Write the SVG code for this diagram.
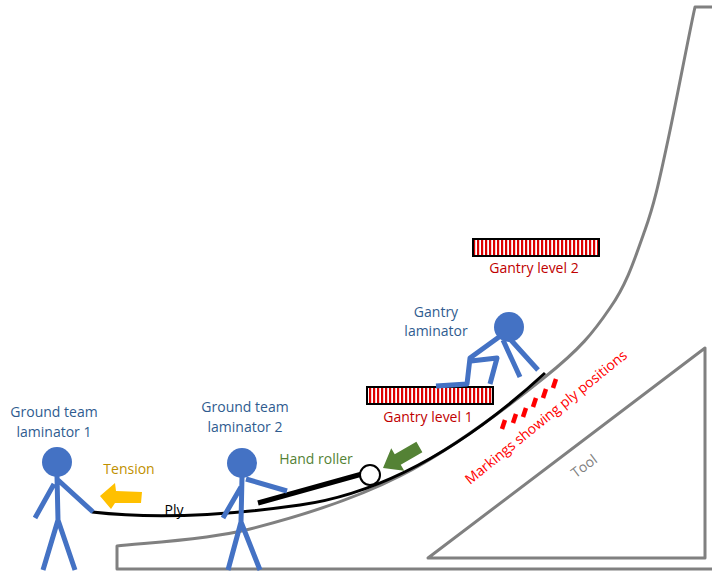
<svg xmlns="http://www.w3.org/2000/svg" width="712" height="573" viewBox="0 0 712 573">
  <style>
    text { font-family: "Open Sans", "Liberation Sans", Arial, sans-serif; font-size: 14px; }
    .lbl { fill: #2F5C8F; text-anchor: middle; }
    .gantry-lbl { fill: #C00000; text-anchor: middle; }
    .fig { fill: none; stroke: #4472C4; stroke-width: 5; stroke-linejoin: round; }
    .head { fill: #4472C4; }
    .tool { fill: none; stroke: #808080; stroke-width: 3; stroke-linejoin: round; }
    .mark { stroke: #FF0000; stroke-width: 4.5; }
    .bar { fill: url(#stripes); stroke: #000; stroke-width: 2; }
  </style>
  <defs>
    <pattern id="stripes" patternUnits="userSpaceOnUse" x="0" y="0" width="4" height="20">
      <rect x="0" y="0" width="4" height="20" fill="#FFFFFF"/>
      <rect x="1" y="0" width="2.2" height="20" fill="#DD0000"/>
    </pattern>
  </defs>

  <!-- Tool: mould surface and base -->
  <g id="tool">
    <path class="tool" d="M712,569 L117,569 L117,546 C139,543 203,541 250,529 C297,517 351,501 400,476 C449,451 510,405 545,377 C580,349 593,333 610,308 C627,284 635,258 645,230 C655,202 660,177 668,140 C676,103 690,29 695,7 L712,7"/>
    <path class="tool" d="M428,558 L705,348 L705,558 Z"/>
    <text transform="translate(587,470) rotate(-37)" text-anchor="middle" fill="#7F7F7F">Tool</text>
  </g>

  <!-- Gantry platforms -->
  <g id="gantry-level-2">
    <rect class="bar" x="473" y="239" width="126" height="17"/>
    <text class="gantry-lbl" x="534" y="273">Gantry level 2</text>
  </g>
  <g id="gantry-level-1">
    <rect class="bar" x="367" y="387" width="126" height="17"/>
    <text class="gantry-lbl" x="428" y="422">Gantry level 1</text>
  </g>

  <!-- Ply laid on the tool -->
  <g id="ply">
    <path d="M92,512 Q180,522 300,505 T545,373" fill="none" stroke="#000" stroke-width="3"/>
    <text x="174" y="515" text-anchor="middle" fill="#000">Ply</text>
  </g>

  <!-- Ply position markings -->
  <g id="markings">
    <line class="mark" x1="502" y1="429" x2="505" y2="420"/>
    <line class="mark" x1="513" y1="423" x2="516" y2="414"/>
    <line class="mark" x1="523" y1="417" x2="526" y2="408"/>
    <line class="mark" x1="533" y1="407" x2="536" y2="398"/>
    <line class="mark" x1="543" y1="398" x2="546" y2="389"/>
    <line class="mark" x1="553" y1="388" x2="556" y2="379"/>
    <text transform="translate(549,421) rotate(-39)" text-anchor="middle" fill="#FF0000">Markings showing ply positions</text>
  </g>

  <!-- Hand roller -->
  <g id="hand-roller">
    <line x1="258" y1="503" x2="362" y2="474" stroke="#000" stroke-width="5"/>
    <circle cx="370" cy="475" r="10" fill="#FFF" stroke="#000" stroke-width="2"/>
    <text x="316" y="464" text-anchor="middle" fill="#548235">Hand roller</text>
  </g>

  <!-- Force arrows -->
  <g id="arrows">
    <polygon transform="translate(383,468) rotate(150)" points="0,0 -17,-13 -17,-6 -42,-6 -42,6 -17,6 -17,13" fill="#548235"/>
    <polygon points="100,496 115,483 116,491 142,492 141,503 115,503 111,509" fill="#FFC000"/>
    <text x="129" y="474" text-anchor="middle" fill="#BF9000">Tension</text>
  </g>

  <!-- Ground team laminator 1 -->
  <g id="ground-laminator-1">
    <circle class="head" cx="57" cy="462" r="15"/>
    <path class="fig" d="M57,476 L58,520 M58,520 L43,570 M58,520 L75,570 M54,484 L35,518 M58,480 L93,512"/>
    <text class="lbl" x="54" y="417">Ground team</text>
    <text class="lbl" x="54" y="437">laminator 1</text>
  </g>

  <!-- Ground team laminator 2 -->
  <g id="ground-laminator-2">
    <circle class="head" cx="242" cy="463" r="15"/>
    <path class="fig" d="M242,477 L241,522 M241,522 L228,570 M241,522 L260,570 M241,487 L223,518 M246,479 L287,491"/>
    <text class="lbl" x="245" y="412">Ground team</text>
    <text class="lbl" x="245" y="432">laminator 2</text>
  </g>

  <!-- Gantry laminator -->
  <g id="gantry-laminator">
    <circle class="head" cx="509" cy="327" r="15"/>
    <path class="fig" d="M499,337 L470,358 L467,384 L436,386 M471,361 L497,358 L490,384 M503,340 L520,377 M510,339 L538,370"/>
    <text class="lbl" x="436" y="317">Gantry</text>
    <text class="lbl" x="436" y="336">laminator</text>
  </g>
</svg>
